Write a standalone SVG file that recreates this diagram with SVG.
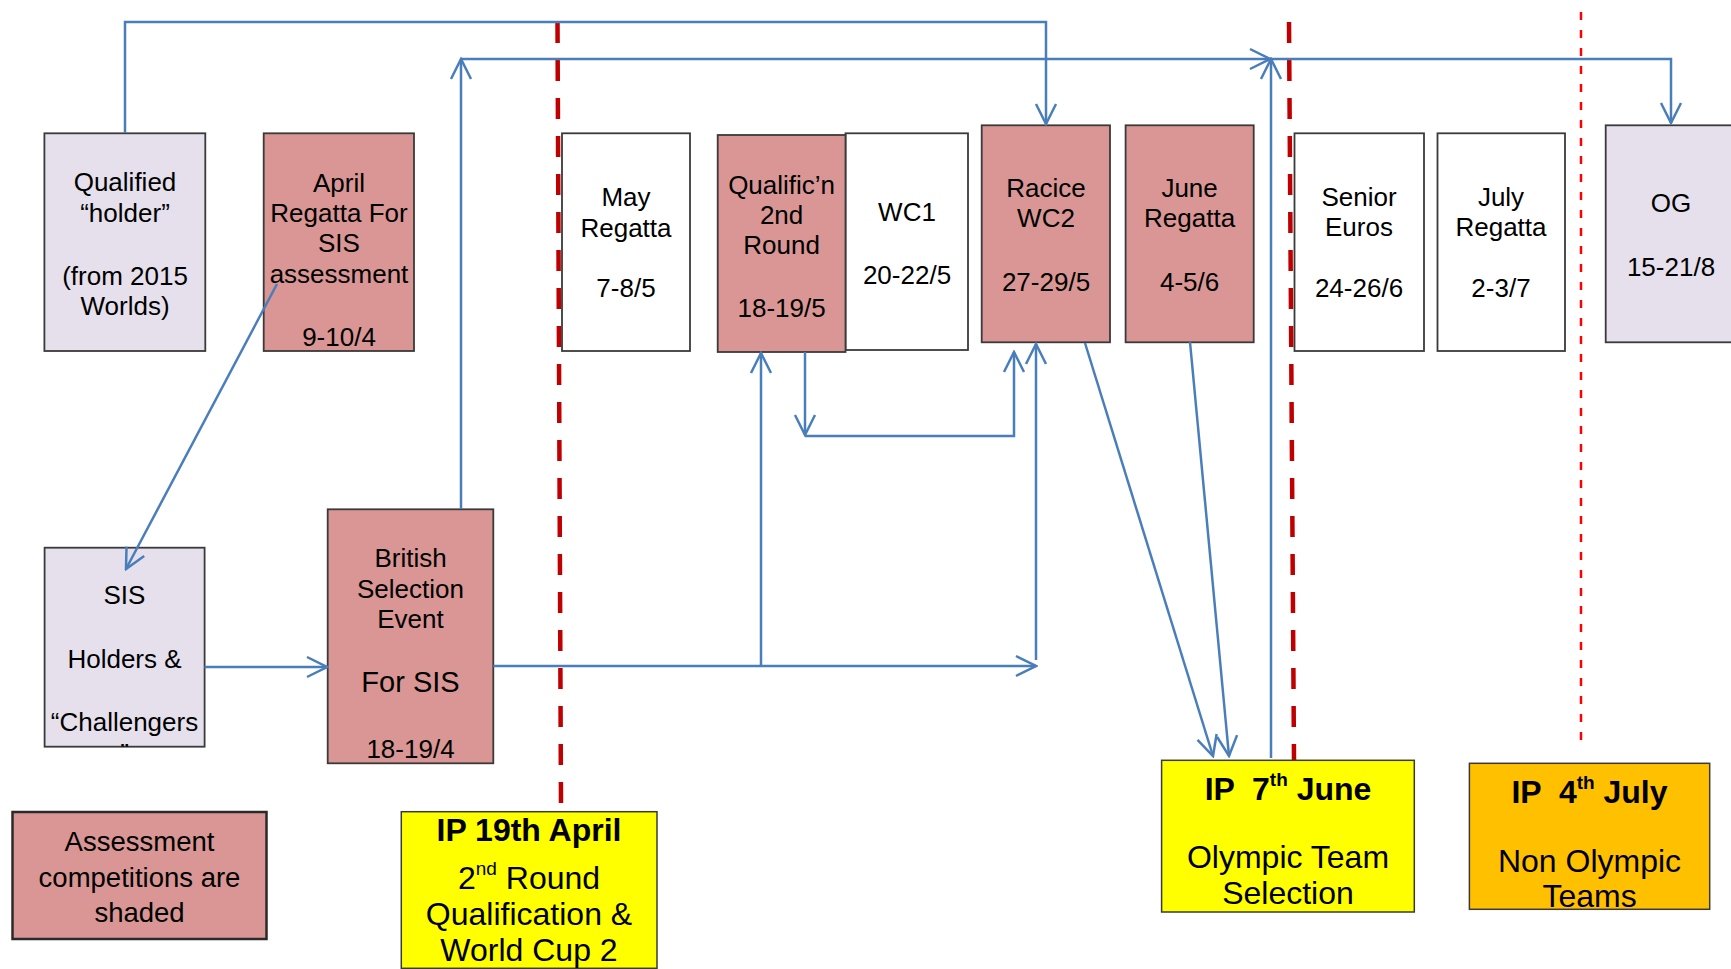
<svg xmlns="http://www.w3.org/2000/svg" width="1731" height="969" viewBox="0 0 1731 969">
<style>
.box{stroke:#3a3a3a;stroke-width:1.8}
.shaded{fill:#D99694}
.lav{fill:#E5E0EC}
.white{fill:#ffffff}
.t{font-family:"Liberation Sans",Arial,sans-serif;font-size:26px;fill:#000;text-anchor:middle}
.b{font-weight:bold}
.s32{font-size:32px}
.s28{font-size:27.5px}
.conn{fill:none;stroke:#4A7EBB;stroke-width:2.5}
.red{fill:none;stroke:#C00000;stroke-width:4.5;stroke-dasharray:21 17}
.redthin{fill:none;stroke:#FF0000;stroke-width:2.5;stroke-dasharray:8 10}
</style>
<defs>
<marker id="arr" markerUnits="userSpaceOnUse" markerWidth="24" markerHeight="24" viewBox="0 0 24 24" refX="22" refY="12" orient="auto">
<path d="M2,2 L22,12 L2,22" fill="none" stroke="#4A7EBB" stroke-width="2.5"/>
</marker>
<clipPath id="sisclip"><rect x="44.6" y="547.7" width="160" height="199"/></clipPath>
</defs>
<rect width="1731" height="969" fill="#ffffff"/>
<g id="timelines">
<path class="red" d="M557.5,22 L561,806"/>
<path class="red" d="M1289,22 L1294,760"/>
<path class="redthin" d="M1581,12 V747"/>
</g>
<g id="n-qualified">
<rect class="box lav" x="44.4" y="133.3" width="160.9" height="217.7"/>
<text class="t"><tspan x="125" y="191">Qualified</tspan><tspan x="125" y="222">“holder”</tspan><tspan x="125" y="285">(from 2015</tspan><tspan x="125" y="315">Worlds)</tspan></text>
</g>
<g id="n-april">
<rect class="box shaded" x="263.7" y="133.3" width="150.3" height="217.7"/>
<text class="t"><tspan x="339" y="192">April</tspan><tspan x="339" y="222">Regatta For</tspan><tspan x="339" y="252">SIS</tspan><tspan x="339" y="283">assessment</tspan><tspan x="339" y="346">9-10/4</tspan></text>
</g>
<g id="n-may">
<rect class="box white" x="562" y="133.3" width="128" height="217.7"/>
<text class="t"><tspan x="626" y="206">May</tspan><tspan x="626" y="237">Regatta</tspan><tspan x="626" y="297">7-8/5</tspan></text>
</g>
<g id="n-wc1">
<rect class="box white" x="845.5" y="133.3" width="122.5" height="216.7"/>
<text class="t"><tspan x="907" y="221">WC1</tspan><tspan x="907" y="284">20-22/5</tspan></text>
</g>
<g id="n-qualific">
<rect class="box shaded" x="717.7" y="135" width="127.8" height="217"/>
<text class="t"><tspan x="781.6" y="194">Qualific’n</tspan><tspan x="781.6" y="224">2nd</tspan><tspan x="781.6" y="254">Round</tspan><tspan x="781.6" y="317">18-19/5</tspan></text>
</g>
<g id="n-racice">
<rect class="box shaded" x="981.7" y="125.3" width="128.3" height="217"/>
<text class="t"><tspan x="1046" y="197">Racice</tspan><tspan x="1046" y="227">WC2</tspan><tspan x="1046" y="291">27-29/5</tspan></text>
</g>
<g id="n-june">
<rect class="box shaded" x="1125.6" y="125.3" width="128.1" height="217"/>
<text class="t"><tspan x="1189.6" y="197">June</tspan><tspan x="1189.6" y="227">Regatta</tspan><tspan x="1189.6" y="291">4-5/6</tspan></text>
</g>
<g id="n-euros">
<rect class="box white" x="1294.5" y="133.3" width="129.5" height="217.7"/>
<text class="t"><tspan x="1359" y="206">Senior</tspan><tspan x="1359" y="236">Euros</tspan><tspan x="1359" y="297">24-26/6</tspan></text>
</g>
<g id="n-july">
<rect class="box white" x="1437.5" y="133.3" width="127.5" height="217.7"/>
<text class="t"><tspan x="1501" y="206">July</tspan><tspan x="1501" y="236">Regatta</tspan><tspan x="1501" y="297">2-3/7</tspan></text>
</g>
<g id="n-og">
<rect class="box lav" x="1605.7" y="125.3" width="140" height="217"/>
<text class="t"><tspan x="1671" y="212">OG</tspan><tspan x="1671" y="276">15-21/8</tspan></text>
</g>
<g id="n-sis">
<rect class="box lav" x="44.6" y="547.7" width="160" height="199"/>
<text class="t" clip-path="url(#sisclip)"><tspan x="124.5" y="604">SIS</tspan><tspan x="124.5" y="668">Holders &amp;</tspan><tspan x="124.5" y="731">“Challengers</tspan><tspan x="124.5" y="762">”</tspan></text>
</g>
<g id="n-british">
<rect class="box shaded" x="327.7" y="509.3" width="165.6" height="254"/>
<text class="t"><tspan x="410.5" y="567">British</tspan><tspan x="410.5" y="598">Selection</tspan><tspan x="410.5" y="628">Event</tspan><tspan x="410.5" y="692" font-size="29">For SIS</tspan><tspan x="410.5" y="758">18-19/4</tspan></text>
</g>
<g id="n-legend">
<rect x="12.5" y="812" width="254" height="127" fill="#D99694" stroke="#2a2a2a" stroke-width="2.5"/>
<text class="t s28"><tspan x="139.5" y="851">Assessment</tspan><tspan x="139.5" y="887">competitions are</tspan><tspan x="139.5" y="922">shaded</tspan></text>
</g>
<g id="n-ip-april">
<rect x="401.3" y="811.7" width="255.7" height="156.6" fill="#FFFF00" stroke="#3a3a3a" stroke-width="1.5"/>
<text class="t b s32" x="529" y="841">IP 19th April</text>
<text class="t s32"><tspan x="529" y="889">2<tspan font-size="19" dy="-14">nd</tspan><tspan dy="14"> Round</tspan></tspan><tspan x="529" y="925">Qualification &amp;</tspan><tspan x="529" y="961">World Cup 2</tspan></text>
</g>
<g id="n-ip-june">
<rect x="1161.6" y="760.3" width="252.7" height="151.7" fill="#FFFF00" stroke="#3a3a3a" stroke-width="1.5"/>
<text class="t b s32" x="1288" y="800" xml:space="preserve">IP  7<tspan font-size="19" dy="-14">th</tspan><tspan dy="14"> June</tspan></text>
<text class="t s32"><tspan x="1288" y="868">Olympic Team</tspan><tspan x="1288" y="904">Selection</tspan></text>
</g>
<g id="n-ip-july">
<rect x="1469.4" y="763.3" width="240.3" height="146" fill="#FFC000" stroke="#3a3a3a" stroke-width="1.5"/>
<text class="t b s32" x="1589.5" y="803" xml:space="preserve">IP  4<tspan font-size="19" dy="-14">th</tspan><tspan dy="14"> July</tspan></text>
<text class="t s32"><tspan x="1589.5" y="872">Non Olympic</tspan><tspan x="1589.5" y="907">Teams</tspan></text>
</g>
<g id="connectors">
<path class="conn" marker-end="url(#arr)" d="M125,133 V22 H1046 V124"/>
<path class="conn" marker-end="url(#arr)" d="M461,509 V59"/>
<path class="conn" marker-end="url(#arr)" d="M461,59 H1270"/>
<path class="conn" marker-end="url(#arr)" d="M1271,758 V59"/>
<path class="conn" marker-end="url(#arr)" d="M1271,59 H1671 V123"/>
<path class="conn" marker-end="url(#arr)" d="M277,284 L126,569"/>
<path class="conn" marker-end="url(#arr)" d="M204.5,667 H327"/>
<path class="conn" marker-end="url(#arr)" d="M493.3,666 H1036"/>
<path class="conn" marker-end="url(#arr)" d="M761,666 V353"/>
<path class="conn" marker-end="url(#arr)" d="M1036,660 V344"/>
<path class="conn" marker-end="url(#arr)" d="M805,352 V435"/>
<path class="conn" marker-end="url(#arr)" d="M805,436 H1014 V352"/>
<path class="conn" marker-end="url(#arr)" d="M1085,343 L1213,756"/>
<path class="conn" marker-end="url(#arr)" d="M1190,342 L1229,756"/>
</g>
</svg>
